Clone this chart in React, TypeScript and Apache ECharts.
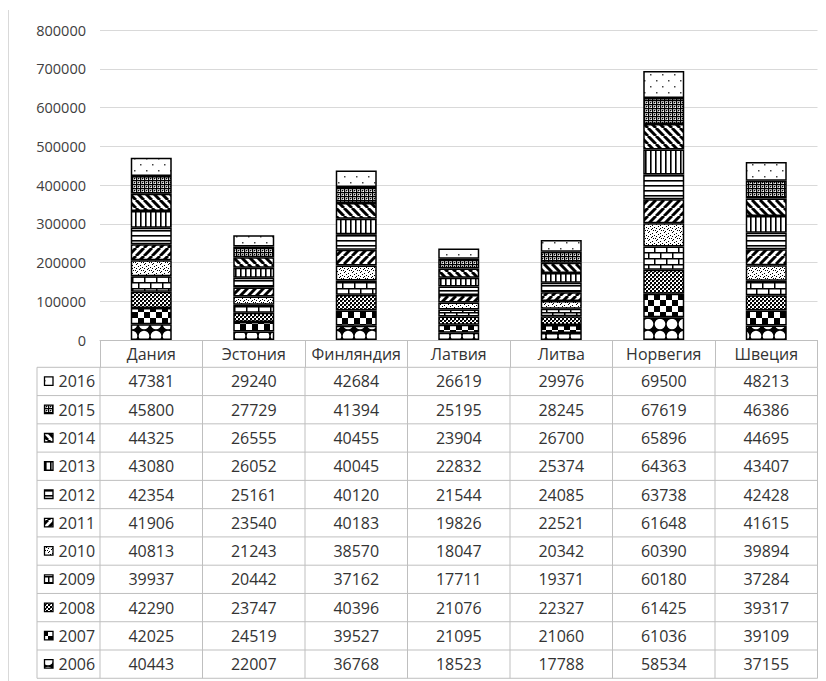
import React, { useEffect, useRef } from "react";
import * as echarts from "echarts";

const categories = ["Дания", "Эстония", "Финляндия", "Латвия", "Литва", "Норвегия", "Швеция"];
const years = ["2006", "2007", "2008", "2009", "2010", "2011", "2012", "2013", "2014", "2015", "2016"];
const v2006 = [40443, 22007, 36768, 18523, 17788, 58534, 37155];
const v2007 = [42025, 24519, 39527, 21095, 21060, 61036, 39109];
const v2008 = [42290, 23747, 40396, 21076, 22327, 61425, 39317];
const v2009 = [39937, 20442, 37162, 17711, 19371, 60180, 37284];
const v2010 = [40813, 21243, 38570, 18047, 20342, 60390, 39894];
const v2011 = [41906, 23540, 40183, 19826, 22521, 61648, 41615];
const v2012 = [42354, 25161, 40120, 21544, 24085, 63738, 42428];
const v2013 = [43080, 26052, 40045, 22832, 25374, 64363, 43407];
const v2014 = [44325, 26555, 40455, 23904, 26700, 65896, 44695];
const v2015 = [45800, 27729, 41394, 25195, 28245, 67619, 46386];
const v2016 = [47381, 29240, 42684, 26619, 29976, 69500, 48213];
const seriesValues = [v2006, v2007, v2008, v2009, v2010, v2011, v2012, v2013, v2014, v2015, v2016];
const yMin = 0;
const yMax = 800000;
const yStep = 100000;

const FONT = '"Open Sans", "Noto Sans", sans-serif';

type Ctx = CanvasRenderingContext2D;

function makeTile(w: number, h: number, draw: (ctx: Ctx, w: number, h: number) => void) {
  const c = document.createElement("canvas");
  c.width = w;
  c.height = h;
  const ctx = c.getContext("2d") as Ctx;
  ctx.fillStyle = "#fff";
  ctx.fillRect(0, 0, w, h);
  ctx.fillStyle = "#000";
  ctx.strokeStyle = "#000";
  draw(ctx, w, h);
  return { image: c, repeat: "repeat", imageWidth: w, imageHeight: h } as any;
}

function diag(ctx: Ctx, w: number, up: boolean, lw: number) {
  ctx.lineWidth = lw;
  ctx.beginPath();
  for (let k = -3; k <= 3; k++) {
    if (up) {
      ctx.moveTo(k * w, w);
      ctx.lineTo(k * w + w, 0);
    } else {
      ctx.moveTo(k * w, 0);
      ctx.lineTo(k * w + w, w);
    }
  }
  ctx.stroke();
}

function buildPatterns() {
  return [
    // 2006 solid diamond
    makeTile(12, 12, (ctx) => {
      ctx.fillStyle = "#000";
      ctx.fillRect(0, 0, 12, 12);
      ctx.fillStyle = "#fff";
      const pts = [[0, 0], [12, 0], [0, 12], [12, 12]];
      pts.forEach(([x, y]) => {
        ctx.beginPath();
        ctx.arc(x, y, 5.3, 0, Math.PI * 2);
        ctx.fill();
      });
    }),
    // 2007 large checker
    makeTile(12, 12, (ctx) => {
      ctx.fillRect(0, 0, 6, 6);
      ctx.fillRect(6, 6, 6, 6);
    }),
    // 2008 small checker
    makeTile(4, 4, (ctx) => {
      ctx.fillRect(0, 0, 2, 2);
      ctx.fillRect(2, 2, 2, 2);
      ctx.fillStyle = "#666";
      ctx.fillRect(2, 0, 1, 1);
    }),
    // 2009 bricks
    makeTile(12, 12, (ctx) => {
      ctx.fillRect(0, 0, 12, 1.5);
      ctx.fillRect(0, 6, 12, 1.5);
      ctx.fillRect(0, 0, 1.5, 6);
      ctx.fillRect(6, 6, 1.5, 6);
    }),
    // 2010 dotted
    makeTile(8, 8, (ctx) => {
      const pts = [[0, 0], [4, 1], [2, 2], [6, 3], [0, 4], [3, 5], [5, 6], [1, 7], [7, 6], [4, 4]];
      pts.forEach(([x, y]) => ctx.fillRect(x, y, 1, 1));
    }),
    // 2011 wide upward diagonal
    makeTile(8, 8, (ctx, w) => diag(ctx, w, true, 3)),
    // 2012 horizontal
    makeTile(1, 5, (ctx) => {
      ctx.fillRect(0, 0, 1, 1.6);
    }),
    // 2013 vertical
    makeTile(5, 1, (ctx) => {
      ctx.fillRect(0, 0, 1.6, 1);
    }),
    // 2014 wide downward diagonal
    makeTile(8, 8, (ctx, w) => diag(ctx, w, false, 3)),
    // 2015 dense grid gray
    makeTile(4, 4, (ctx) => {
      ctx.fillStyle = "#aaa";
      ctx.fillRect(0, 0, 4, 4);
      ctx.fillStyle = "#000";
      ctx.fillRect(0, 0, 4, 1);
      ctx.fillRect(0, 0, 1, 4);
      ctx.fillRect(2, 2, 1, 1);
      ctx.fillStyle = "#fff";
      ctx.fillRect(3, 3, 1, 1);
    }),
    // 2016 sparse dots
    makeTile(12, 12, (ctx) => {
      ctx.fillStyle = "#444";
      ctx.fillRect(2, 2, 1.5, 1.5);
      ctx.fillRect(8, 8, 1.5, 1.5);
    }),
  ];
}

export default function App() {
  const ref = useRef<HTMLDivElement>(null);

  useEffect(() => {
    if (!ref.current) return;
    const chart = echarts.init(ref.current, undefined, { renderer: "svg" });
    const patterns = buildPatterns();

    const GRID_L = 100;
    const GRID_R = 817.5;
    const GRID_TOP = 30;
    const AXIS_Y = 340;
    const TABLE_L = 37;
    const ROW_TOP = 367.3;
    const ROW_H = 28.27;
    const colW = (GRID_R - GRID_L) / categories.length;
    const lineColor = "#bfbfbf";
    const textColor = "#333333";

    const graphics: any[] = [];
    // outer left border of chart area
    graphics.push({
      type: "line",
      silent: true,
      shape: { x1: 8.5, y1: 10, x2: 8.5, y2: 681 },
      style: { stroke: "#d9d9d9", lineWidth: 1 },
    });
    const nRows = years.length;
    for (let i = 0; i <= nRows; i++) {
      const y = ROW_TOP + i * ROW_H;
      graphics.push({
        type: "line",
        silent: true,
        shape: { x1: TABLE_L, y1: y, x2: GRID_R, y2: y },
        style: { stroke: lineColor, lineWidth: 1 },
      });
    }
    const vxs = [TABLE_L];
    for (let j = 0; j <= categories.length; j++) vxs.push(GRID_L + j * colW);
    vxs.forEach((x) => {
      graphics.push({
        type: "line",
        silent: true,
        shape: { x1: x, y1: ROW_TOP, x2: x, y2: ROW_TOP + nRows * ROW_H },
        style: { stroke: lineColor, lineWidth: 1 },
      });
    });
    for (let r = 0; r < nRows; r++) {
      const yi = nRows - 1 - r;
      const cy = ROW_TOP + (r + 0.5) * ROW_H;
      graphics.push({
        type: "rect",
        silent: true,
        shape: { x: 44.5, y: cy - 4.5, width: 8.5, height: 8.5 },
        style: { fill: patterns[yi], stroke: "#000", lineWidth: 1.3 },
      });
      graphics.push({
        type: "text",
        silent: true,
        style: {
          text: years[yi],
          x: 58.5,
          y: cy,
          align: "left",
          verticalAlign: "middle",
          fill: textColor,
          fontSize: 16,
          fontFamily: FONT,
        },
      });
      seriesValues[yi].forEach((v, j) => {
        graphics.push({
          type: "text",
          silent: true,
          style: {
            text: String(v),
            x: GRID_L + (j + 0.5) * colW,
            y: cy,
            align: "center",
            verticalAlign: "middle",
            fill: textColor,
            fontSize: 16,
            fontFamily: FONT,
          },
        });
      });
    }

    chart.setOption({
      animation: false,
      backgroundColor: "#fff",
      textStyle: { fontFamily: FONT },
      grid: { left: GRID_L, right: 826 - GRID_R, top: GRID_TOP, bottom: 681 - AXIS_Y, containLabel: false },
      xAxis: {
        type: "category",
        data: categories,
        axisLine: { show: true, lineStyle: { color: lineColor, width: 1 } },
        axisTick: { show: true, length: 27.3, interval: 0, lineStyle: { color: lineColor, width: 1 } },
        axisLabel: { color: textColor, fontSize: 16, fontFamily: FONT, margin: 6, lineHeight: 16, interval: 0 },
        splitLine: { show: false },
      },
      yAxis: {
        type: "value",
        min: yMin,
        max: yMax,
        interval: yStep,
        axisLine: { show: false },
        axisTick: { show: false },
        axisLabel: {
          color: "#404040",
          fontSize: 14.5,
          fontFamily: FONT,
          margin: 14,
          formatter: (v: number) => String(v),
        },
        splitLine: { lineStyle: { color: "#d9d9d9", width: 1 } },
      },
      series: years.map((y, i) => ({
        name: y,
        type: "bar",
        stack: "total",
        barWidth: 41,
        data: seriesValues[i],
        itemStyle: { color: patterns[i], borderColor: "#000", borderWidth: 1.5 },
        emphasis: { disabled: true },
      })),
      graphic: graphics,
    });

    return () => {
      chart.dispose();
    };
  }, []);

  return (
    <div
      ref={ref}
      style={{ position: "absolute", left: 0, top: 0, width: 826, height: 681 }}
    />
  );
}
